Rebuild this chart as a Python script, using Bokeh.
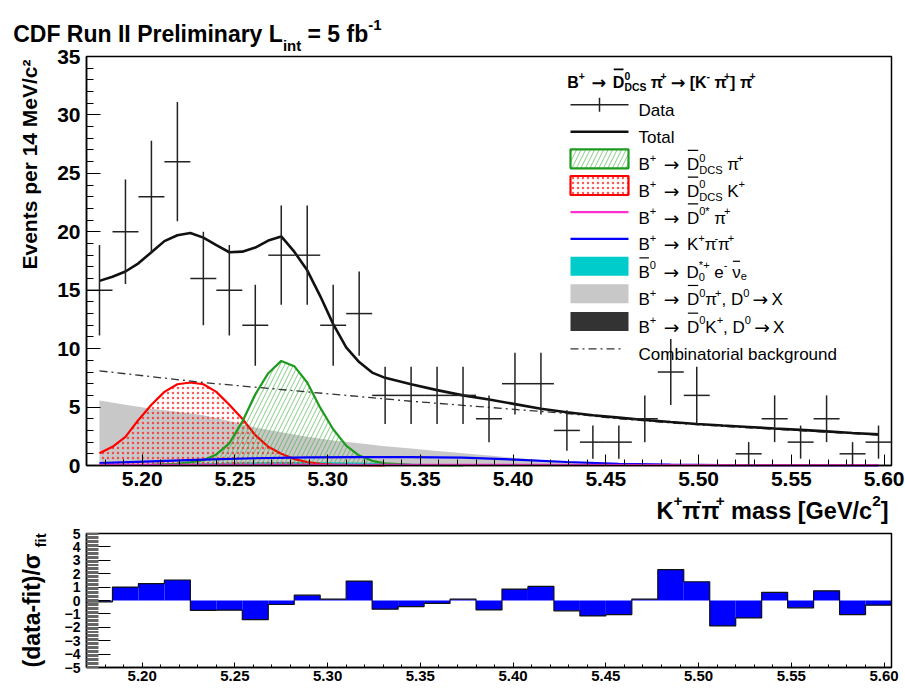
import math
import numpy as np
from bokeh.plotting import figure
from bokeh.layouts import column
from bokeh.models import (Label, Arrow, BoxAnnotation, Range1d, SingleIntervalTicker,
                          NumeralTickFormatter)
from bokeh.embed import file_html
from bokeh.resources import INLINE

# ---------------------------------------------------------------- data
BIN_LO, BIN_HI, BIN_W = 5.170, 5.604, 0.014
Y_MAX = 35
PULL_LIM = 5

counts = [15, 20, 23, 26, 16, 15, 12, 18, 18, 12, 13, 6, 6, 6, 6, 4,
          7, 7, 3, 2, 2, 4, 8, 6, 0, 1, 4, 2, 4, 1, 2]

residuals = [-0.10, 1.00, 1.26, 1.53, -0.74, -0.72, -1.43, -0.30, 0.40, 0.10, 1.45,
             -0.65, -0.45, -0.22, 0.10, -0.70, 0.85, 1.05, -0.77, -1.15, -1.05, 0.10,
             2.30, 1.40, -1.90, -1.30, 0.60, -0.55, 0.72, -1.05, -0.35]

total_m = [5.177, 5.184, 5.191, 5.198, 5.205, 5.212, 5.219, 5.226, 5.233, 5.240, 5.247,
           5.254, 5.261, 5.268, 5.275, 5.282, 5.289, 5.296, 5.303, 5.310, 5.317, 5.324,
           5.331, 5.345, 5.359, 5.373, 5.387, 5.401, 5.415, 5.429, 5.443, 5.457, 5.471,
           5.485, 5.499, 5.513, 5.527, 5.541, 5.555, 5.569, 5.583, 5.597]
total_y = [15.8, 16.15, 16.6, 17.3, 18.25, 19.2, 19.7, 19.9, 19.5, 18.85, 18.25,
           18.3, 18.65, 19.25, 19.6, 18.3, 16.7, 14.5, 12.1, 10.1, 8.85, 7.95,
           7.5, 6.95, 6.45, 6.0, 5.65, 5.25, 4.85, 4.55, 4.3, 4.1, 3.9,
           3.72, 3.55, 3.42, 3.3, 3.17, 3.05, 2.92, 2.78, 2.66]

dk_m = [5.177, 5.184, 5.191, 5.198, 5.205, 5.212, 5.219, 5.226, 5.233, 5.240, 5.247,
        5.254, 5.261, 5.268, 5.275, 5.282, 5.289, 5.296, 5.303, 5.317, 5.331]
dk_y = [1.05, 1.6, 2.45, 3.9, 5.2, 6.3, 6.95, 7.1, 6.95, 6.3, 5.2,
        4.0, 2.6, 1.6, 1.0, 0.55, 0.3, 0.15, 0.08, 0.02, 0.0]

dpi_m = [5.205, 5.219, 5.226, 5.233, 5.240, 5.247, 5.254, 5.261, 5.268, 5.275, 5.282,
         5.289, 5.296, 5.303, 5.310, 5.317, 5.324, 5.331, 5.345, 5.359, 5.373]
dpi_y = [0.05, 0.15, 0.28, 0.45, 0.95, 1.9, 3.75, 6.1, 7.9, 8.95, 8.5,
         7.1, 4.95, 3.1, 1.7, 0.85, 0.4, 0.18, 0.05, 0.02, 0.0]

d0pi_x_m = [5.177, 5.191, 5.205, 5.219, 5.233, 5.247, 5.261, 5.275, 5.289, 5.303, 5.317,
            5.331, 5.345, 5.359, 5.373, 5.387, 5.401, 5.415, 5.429, 5.443, 5.471, 5.499,
            5.541, 5.597]
d0pi_x_y = [5.56, 5.2, 4.85, 4.6, 4.3, 3.8, 3.25, 2.85, 2.45, 2.15, 1.9,
            1.65, 1.45, 1.25, 1.05, 0.85, 0.65, 0.48, 0.35, 0.25, 0.12, 0.05,
            0.02, 0.0]

d0k_x_m = [5.177, 5.233, 5.289, 5.345, 5.401, 5.597]
d0k_x_y = [0.04, 0.03, 0.02, 0.01, 0.0, 0.0]

semilep_m = [5.177, 5.205, 5.233, 5.261, 5.289, 5.317, 5.345, 5.373, 5.401, 5.429, 5.597]
semilep_y = [0.05, 0.1, 0.2, 0.28, 0.3, 0.25, 0.15, 0.08, 0.03, 0.0, 0.0]

kpipi_m = [5.177, 5.205, 5.233, 5.261, 5.289, 5.317, 5.345, 5.373, 5.401, 5.429, 5.457,
           5.485, 5.513, 5.541, 5.597]
kpipi_y = [0.2, 0.35, 0.5, 0.62, 0.7, 0.72, 0.72, 0.68, 0.5, 0.3, 0.14,
           0.07, 0.04, 0.02, 0.01]

dstar_m = [5.177, 5.289, 5.401, 5.513, 5.597]
dstar_y = [0.06, 0.05, 0.05, 0.04, 0.04]

comb_m = [5.177, 5.205, 5.233, 5.261, 5.289, 5.317, 5.345, 5.373, 5.401, 5.429, 5.457,
          5.485, 5.513, 5.541, 5.569, 5.597]
comb_y = [8.1, 7.6, 7.1, 6.7, 6.3, 5.9, 5.5, 5.15, 4.8, 4.45, 4.0,
          3.65, 3.35, 3.1, 2.85, 2.6]

# ---------------------------------------------------------------- text helpers
FONT = "Liberation Sans"
ARROW_FONT = "DejaVu Sans"

REG_W = {" ": 278, "+": 584, "-": 333, "*": 389, ",": 278, ".": 278, "/": 278,
         "[": 278, "]": 278, "(": 333, ")": 333, "=": 584,
         "\u03c0": 573, "\u03bd": 500, "\u03c3": 600}
for ch in "0123456789":
    REG_W[ch] = 556
REG_W.update(dict(zip("ABCDEFGHIJKLMNOPQRSTUVWXYZ",
                      [667, 667, 722, 722, 667, 611, 778, 722, 278, 500, 667, 556, 833,
                       722, 778, 667, 778, 722, 667, 611, 722, 667, 944, 667, 667, 611])))
REG_W.update(dict(zip("abcdefghijklmnopqrstuvwxyz",
                      [556, 556, 500, 556, 556, 278, 556, 556, 222, 222, 500, 222, 833,
                       556, 556, 556, 556, 333, 500, 278, 556, 500, 722, 500, 500, 500])))
BOLD_W = dict(REG_W)
BOLD_W.update({"[": 333, "]": 333, "\u03c0": 600, "\u03c3": 620})
BOLD_W.update(dict(zip("ABCDEFGHIJKLMNOPQRSTUVWXYZ",
                       [722, 722, 722, 722, 667, 611, 778, 722, 278, 556, 722, 611, 833,
                        722, 778, 667, 778, 722, 667, 611, 722, 667, 944, 667, 667, 611])))
BOLD_W.update(dict(zip("abcdefghijklmnopqrstuvwxyz",
                       [556, 611, 556, 611, 556, 333, 611, 611, 278, 278, 556, 278, 889,
                        611, 611, 611, 611, 389, 556, 333, 611, 556, 778, 556, 556, 500])))


def place(fig, frame, X, Y, text, size, bold=False, color="black", align="left",
          baseline="alphabetic", angle=0.0, font=FONT):
    """Put a text at page pixel (X, Y); frame = (canvas left, canvas bottom) in page pixels."""
    left, bottom = frame
    fig.add_layout(Label(x=X - left, y=bottom - Y, x_units="screen", y_units="screen",
                         text=text, text_font=font, text_font_size=f"{size:.1f}px",
                         text_font_style="bold" if bold else "normal", text_color=color,
                         text_align=align, text_baseline=baseline, angle=angle))


def seg(fig, frame, X0, Y0, X1, Y1, color="black", width=1.0, dash="solid"):
    left, bottom = frame
    fig.add_layout(Arrow(x_start=X0 - left, y_start=bottom - Y0, x_end=X1 - left,
                         y_end=bottom - Y1, start_units="screen", end_units="screen",
                         start=None, end=None, line_color=color, line_width=width,
                         line_dash=dash))


def box(fig, frame, X0, Y0, X1, Y1, **kw):
    left, bottom = frame
    fig.add_layout(BoxAnnotation(left=X0 - left, right=X1 - left, top=bottom - Y0,
                                 bottom=bottom - Y1, left_units="screen",
                                 right_units="screen", top_units="screen",
                                 bottom_units="screen", **kw))


def rich(fig, frame, X, Yc, parts, size, bold=False, sub_dy=0.22, sup_dy=0.42, draw=True):
    """Lay out one line built from normal, super/subscript, overlined and arrow pieces."""
    tab = BOLD_W if bold else REG_W

    def width(s, sz):
        return sum(tab.get(c, 556) for c in s) * sz / 1000.0

    def put(x, y, txt, sz):
        # svg drops leading blanks, so they become an offset instead
        lead = len(txt) - len(txt.lstrip(" "))
        core = txt.strip(" ")
        if draw and core:
            place(fig, frame, x + width(" " * lead, sz), y, core, sz, bold)

    base = Yc + 0.35 * size
    small = 0.65 * size
    x = X
    for part in parts:
        kind = part[0]
        if kind in ("n", "bar"):
            w = width(part[1], size)
            put(x, base, part[1], size)
            if draw and kind == "bar":
                top = base - (0.84 if part[1].isupper() else 0.64) * size
                seg(fig, frame, x + 0.08 * w, top, x + 0.92 * w, top,
                    width=1.6 if bold else 1.2)
            x += w
        elif kind == "arr":
            w = part[1] * size
            if draw:
                place(fig, frame, x + 0.5 * w, base, "\u2192", 1.1 * size, bold,
                      align="center", font=ARROW_FONT)
            x += w
        elif kind == "sup":
            put(x, base - sup_dy * size, part[1], small)
            x += width(part[1], small)
        elif kind == "sub":
            put(x, base + sub_dy * size, part[1], small)
            x += width(part[1], small)
        elif kind == "ss":
            put(x, base - sup_dy * size, part[1], small)
            put(x, base + 0.3 * size, part[2], small)
            x += max(width(part[1], small), width(part[2], small))
    return x - X


def pad_ranges(W, H, fx0, fx1, fy0, fy1, x0, x1, y0, y1):
    """Data ranges for a canvas whose frame spans it fully, so that the box
    [x0,x1]x[y0,y1] lands on canvas pixels fx0..fx1 (left-right), fy0..fy1 (top-bottom)."""
    sx = (fx1 - fx0) / (x1 - x0)
    sy = (fy1 - fy0) / (y1 - y0)
    return (Range1d(x0 - fx0 / sx, x1 + (W - fx1) / sx),
            Range1d(y0 - (H - fy1) / sy, y1 + fy0 / sy))


def style_axes(fig, xfix, yfix, xbounds, ybounds, xtick_in, xminor_in, ytick_in, yminor_in):
    fig.xaxis.fixed_location = xfix
    fig.yaxis.fixed_location = yfix
    fig.xaxis.bounds = xbounds
    fig.yaxis.bounds = ybounds
    for ax in (fig.xaxis[0], fig.yaxis[0]):
        ax.axis_line_color = "black"
        ax.axis_line_width = 1.5
        ax.major_tick_out = 0
        ax.minor_tick_out = 0
        ax.major_tick_line_color = "black"
        ax.minor_tick_line_color = "black"
        ax.major_label_text_font = FONT
        ax.major_label_text_font_style = "bold"
        ax.major_label_text_color = "black"
    fig.xaxis[0].major_tick_in = xtick_in
    fig.xaxis[0].minor_tick_in = xminor_in
    fig.yaxis[0].major_tick_in = ytick_in
    fig.yaxis[0].minor_tick_in = yminor_in
    fig.xgrid.visible = False
    fig.ygrid.visible = False
    fig.outline_line_color = None
    # frame box of the pad
    fig.quad(left=[xbounds[0]], right=[xbounds[1]], bottom=[ybounds[0]], top=[ybounds[1]],
             fill_color=None, line_color="black", line_width=1.5)


# ---------------------------------------------------------------- upper pad: mass fit
edges = BIN_LO + BIN_W * np.arange(len(counts) + 1)
centers = 0.5 * (edges[:-1] + edges[1:])
n = np.array(counts, dtype=float)
err = np.sqrt(n)
shown = n > 0

W, H_TOP, H_BOT = 905, 524, 164
TOP = (0, H_TOP)              # page pixel of canvas left / bottom
xr, yr = pad_ranges(W, H_TOP, 86, 891, 56, 465, BIN_LO, BIN_HI, 0, Y_MAX)
top = figure(width=W, height=H_TOP, x_range=xr, y_range=yr, output_backend="svg",
             toolbar_location=None, min_border=0,
             background_fill_color="white", border_fill_color="white")
top.xaxis.ticker = SingleIntervalTicker(interval=0.05, num_minor_ticks=5)
top.xaxis.formatter = NumeralTickFormatter(format="0.00")
top.yaxis.ticker = SingleIntervalTicker(interval=5, num_minor_ticks=5)
style_axes(top, 0, BIN_LO, (BIN_LO, BIN_HI), (0, Y_MAX), 11, 6, 14, 7)
top.xaxis.major_label_text_font_size = "21px"
top.yaxis.major_label_text_font_size = "21px"
top.xaxis.major_label_standoff = 6
top.yaxis.major_label_standoff = 6

# fit components
top.varea(x=d0pi_x_m, y1=0, y2=d0pi_x_y, fill_color="#c8c8c8")
top.varea(x=d0k_x_m, y1=0, y2=d0k_x_y, fill_color="#333333")
top.varea(x=semilep_m, y1=0, y2=semilep_y, fill_color="#00cccc")
top.varea(x=dk_m, y1=0, y2=dk_y, fill_color=None, hatch_pattern="dot", hatch_color="#ff2020",
          hatch_scale=5, hatch_weight=1.3, hatch_alpha=0.75)
top.line(dk_m, dk_y, line_color="#ff0000", line_width=2.2)
top.varea(x=dpi_m, y1=0, y2=dpi_y, fill_color=None, hatch_pattern="right_diagonal_line",
          hatch_color="#33aa33", hatch_scale=9, hatch_weight=0.8, hatch_alpha=0.75)
top.line(dpi_m, dpi_y, line_color="#1e9a1e", line_width=2.2)
top.line(kpipi_m, kpipi_y, line_color="#0000ff", line_width=2.2)
top.line(dstar_m, dstar_y, line_color="#ff33cc", line_width=2.2)
top.line(comb_m, comb_y, line_color="#333333", line_width=1.3, line_dash="8 4 2 4")
top.line(total_m, total_y, line_color="#111111", line_width=2.6)

# data with Poisson errors
top.segment(x0=centers[shown], y0=(n - err)[shown], x1=centers[shown], y1=(n + err)[shown],
            line_color="#222222", line_width=1.5)
top.segment(x0=edges[:-1][shown], y0=n[shown], x1=edges[1:][shown], y1=n[shown],
            line_color="#222222", line_width=1.5)

# title and axis titles
rich(top, TOP, 12.7, 25, [("n", "CDF Run II Preliminary L"), ("sub", "int"),
                          ("n", " = 5 fb"), ("sup", "-1")], 23, bold=True, sub_dy=0.5,
     sup_dy=0.36)
place(top, TOP, 29, 164, "Events per 14 MeV/c\u00b2", 21, bold=True, align="center",
      baseline="middle", angle=math.pi / 2)
xt_parts = [("n", "K"), ("sup", "+"), ("n", "\u03c0"), ("sup", "-"), ("n", "\u03c0"),
            ("sup", "+"), ("n", " mass [GeV/c"), ("sup", "2"), ("n", "]")]
xt_w = rich(top, TOP, 0, 502, xt_parts, 23.5, bold=True, draw=False)
rich(top, TOP, 888 - xt_w, 502, xt_parts, 23.5, bold=True)

# legend
LX0, LX1, LTX = 570, 628, 638
LEG_Y = [104.3, 131.2, 158.3, 185.0, 211.7, 238.4, 265.7, 293.3, 321.0, 348.3]
LS = 17
rich(top, TOP, 566.7, 76.7,
     [("n", "B"), ("sup", "+"), ("arr", 1.75), ("bar", "D"), ("ss", "0", "DCS"),
      ("n", " \u03c0"), ("sup", "+"), ("arr", 1.45), ("n", "[K"), ("sup", "-"),
      ("n", " \u03c0"), ("sup", "+"), ("n", "] \u03c0"), ("sup", "+")], 16, bold=True)

y = LEG_Y[0]
seg(top, TOP, LX0, y, LX1, y, color="#222222", width=1.5)
seg(top, TOP, 599, y - 7, 599, y + 7, color="#222222", width=1.5)
rich(top, TOP, LTX, y, [("n", "Data")], LS)

y = LEG_Y[1]
seg(top, TOP, LX0, y, LX1, y, color="#111111", width=2.6)
rich(top, TOP, LTX, y, [("n", "Total")], LS)

y = LEG_Y[2]
box(top, TOP, LX0, y - 9.5, LX1, y + 9.5, fill_color=None, fill_alpha=1.0,
    hatch_pattern="right_diagonal_line", hatch_color="#33aa33", hatch_scale=9,
    hatch_weight=0.8, hatch_alpha=0.75, line_color="#1e9a1e", line_width=2.2, line_alpha=1.0)
rich(top, TOP, LTX, y, [("n", "B"), ("sup", "+"), ("arr", 1.8), ("bar", "D"),
                        ("ss", "0", "DCS"), ("n", " \u03c0"), ("sup", "+")], LS)

y = LEG_Y[3]
box(top, TOP, LX0, y - 9.5, LX1, y + 9.5, fill_color=None, fill_alpha=1.0,
    hatch_pattern="dot", hatch_color="#ff2020", hatch_scale=5, hatch_weight=1.3,
    hatch_alpha=0.75, line_color="#ff0000", line_width=2.2, line_alpha=1.0)
rich(top, TOP, LTX, y, [("n", "B"), ("sup", "+"), ("arr", 1.8), ("bar", "D"),
                        ("ss", "0", "DCS"), ("n", " K"), ("sup", "+")], LS)

y = LEG_Y[4]
seg(top, TOP, LX0, y, LX1, y, color="#ff33cc", width=2.2)
rich(top, TOP, LTX, y, [("n", "B"), ("sup", "+"), ("arr", 1.8), ("bar", "D"),
                        ("sup", "0*"), ("n", " \u03c0"), ("sup", "+")], LS)

y = LEG_Y[5]
seg(top, TOP, LX0, y, LX1, y, color="#0000ff", width=2.2)
rich(top, TOP, LTX, y, [("n", "B"), ("sup", "+"), ("arr", 1.8), ("n", "K"), ("sup", "+"),
                        ("n", "\u03c0"), ("sup", "-"), ("n", "\u03c0"), ("sup", "+")], LS)

y = LEG_Y[6]
box(top, TOP, LX0, y - 9.5, LX1, y + 9.5, fill_color="#00cccc", fill_alpha=1.0,
    line_color=None)
rich(top, TOP, LTX, y, [("bar", "B"), ("sup", "0"), ("arr", 1.8), ("n", "D"),
                        ("ss", "*+", "0"), ("n", " e"), ("sup", "-"), ("n", " "),
                        ("bar", "\u03bd"), ("sub", "e")], LS)

y = LEG_Y[7]
box(top, TOP, LX0, y - 9.5, LX1, y + 9.5, fill_color="#c8c8c8", fill_alpha=1.0,
    line_color=None)
rich(top, TOP, LTX, y, [("n", "B"), ("sup", "+"), ("arr", 1.8), ("bar", "D"),
                        ("sup", "0"), ("n", "\u03c0"), ("sup", "+"), ("n", ", D"),
                        ("sup", "0"), ("arr", 1.3), ("n", "X")], LS)

y = LEG_Y[8]
box(top, TOP, LX0, y - 9.5, LX1, y + 9.5, fill_color="#333333", fill_alpha=1.0,
    line_color=None)
rich(top, TOP, LTX, y, [("n", "B"), ("sup", "+"), ("arr", 1.8), ("bar", "D"),
                        ("sup", "0"), ("n", "K"), ("sup", "+"), ("n", ", D"),
                        ("sup", "0"), ("arr", 1.3), ("n", "X")], LS)

y = LEG_Y[9]
seg(top, TOP, LX0, y, LX1 - 6, y, color="#333333", width=1.3, dash="8 4 2 4")
rich(top, TOP, LTX, y, [("n", "Combinatorial background")], LS)

# ---------------------------------------------------------------- lower pad: pulls
BOT = (0, H_TOP + H_BOT)
xr2, yr2 = pad_ranges(W, H_BOT, 86, 891, 9, 143, BIN_LO, BIN_HI, -PULL_LIM, PULL_LIM)
bot = figure(width=W, height=H_BOT, x_range=xr2, y_range=yr2, output_backend="svg",
             toolbar_location=None, min_border=0,
             background_fill_color="white", border_fill_color="white")
bot.xaxis.ticker = SingleIntervalTicker(interval=0.05, num_minor_ticks=5)
bot.xaxis.formatter = NumeralTickFormatter(format="0.00")
bot.yaxis.ticker = SingleIntervalTicker(interval=1, num_minor_ticks=10)

res = np.array(residuals)
bot.quad(left=edges[:-1], right=edges[1:], bottom=0, top=res, fill_color="#0000ff",
         line_color=None)
step_x, step_y = [], []
for lo, hi, r in zip(edges[:-1], edges[1:], res):
    step_x += [lo, hi]
    step_y += [r, r]
bot.line(step_x, step_y, line_color="#111111", line_width=1.2)

style_axes(bot, -PULL_LIM, BIN_LO, (BIN_LO, BIN_HI), (-PULL_LIM, PULL_LIM), 5, 3, 24, 12)
bot.yaxis.minor_tick_line_color = "#666666"
bot.xaxis.major_label_text_font_size = "15px"
bot.xaxis.major_label_standoff = 3
bot.yaxis.major_label_text_font_size = "14px"
bot.yaxis.major_label_standoff = 6

place(bot, BOT, 31, 667, "(data-fit)/\u03c3", 23, bold=True, align="left",
      baseline="middle", angle=math.pi / 2)
place(bot, BOT, 40, 547, "fit", 15, bold=True, align="left", baseline="middle",
      angle=math.pi / 2)

layout = column(top, bot)
open("out.html", "w").write(file_html(layout, INLINE))
